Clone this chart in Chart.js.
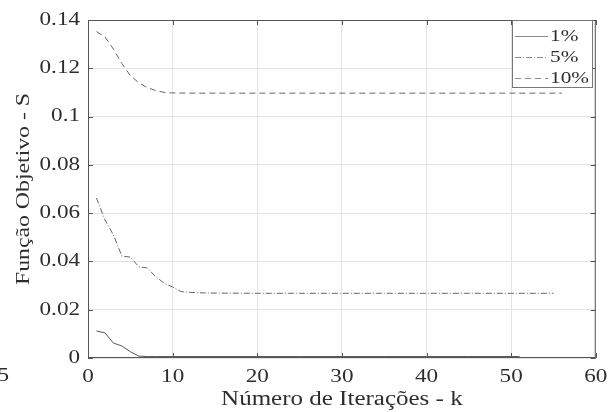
<!DOCTYPE html>
<html>
<head>
<meta charset="utf-8">
<script src="https://cdn.jsdelivr.net/npm/chart.js@4/dist/chart.umd.min.js"></script>
<style>
html,body{margin:0;padding:0;background:#fff;}
#wrap{width:613px;height:412px;}
</style>
</head>
<body>
<div id="wrap"><canvas id="c" width="613" height="412"></canvas></div>
<script>
// Iterations (k) for each series
const k1 = [1,2,3,4,5,6,7,8,10,15,20,25,30,35,40,45,51];
const s1 = [0.0112,0.0104,0.0062,0.0050,0.0026,0.0008,0.0006,0.0006,0.0006,0.0006,0.0006,0.0006,0.0006,0.0006,0.0006,0.0006,0.0006];

const k5 = [1,2,3,4,5,6,7,8,9,10,11,12,14,20,25,30,35,40,45,50,55];
const s5 = [0.0663,0.0572,0.0510,0.0422,0.0418,0.0378,0.0373,0.0337,0.0310,0.0294,0.0275,0.0272,0.0269,0.0268,0.0268,0.0268,0.0268,0.0268,0.0268,0.0268,0.0268];

const k10 = [1,2,3,4,5,6,7,8,9,10,12,15,20,25,30,35,40,45,50,56];
const s10 = [0.1352,0.1330,0.1280,0.1220,0.1170,0.1140,0.1120,0.1108,0.1100,0.1098,0.1097,0.1097,0.1097,0.1097,0.1097,0.1097,0.1097,0.1097,0.1097,0.1097];

const seriesLabels = ['1%','5%','10%'];
const xTicks = [0,10,20,30,40,50,60];
const yTicks = [0,0.02,0.04,0.06,0.08,0.1,0.12,0.14];

const FONT = 'Liberation Serif, Times New Roman, serif';
const TXT = '#2e2e2e';
const SX = 1.25; // horizontal stretch of glyphs, as in the reference

function pts(xs, ys){ return xs.map((x,i)=>({x:x,y:ys[i]})); }

const dashes = [[], [6,2,1,2], [6,4]];

const stretchText = {
  id:'stretchText',
  beforeDraw(chart){
    const ctx = chart.ctx;
    if (ctx._origFill) return;
    const orig = ctx.fillText;
    ctx._origFill = orig;
    ctx.fillText = function(t, x, y, mw){
      this.save();
      this.translate(x, y);
      this.scale(SX, 1);
      if (mw === undefined) orig.call(this, t, 0, 0);
      else orig.call(this, t, 0, 0, mw / SX);
      this.restore();
    };
  }
};

const extras = {
  id:'extras',
  afterDraw(chart){
    const ctx = chart.ctx, a = chart.chartArea;
    const xs = chart.scales.x, ys = chart.scales.y;
    ctx.save();
    // box
    ctx.strokeStyle = '#555'; ctx.lineWidth = 1; ctx.setLineDash([]);
    ctx.strokeRect(a.left+0.5, a.top+0.5, a.right-a.left-1, a.bottom-a.top-1);
    // inward ticks
    ctx.beginPath();
    xTicks.forEach(v=>{
      const px = Math.round(xs.getPixelForValue(v))+0.5;
      ctx.moveTo(px, a.bottom); ctx.lineTo(px, a.bottom-5);
      ctx.moveTo(px, a.top); ctx.lineTo(px, a.top+5);
    });
    yTicks.forEach(v=>{
      const py = Math.round(ys.getPixelForValue(v))+0.5;
      ctx.moveTo(a.left, py); ctx.lineTo(a.left+5, py);
      ctx.moveTo(a.right, py); ctx.lineTo(a.right-5, py);
    });
    ctx.stroke();
    // legend
    const lx = 512, ly = 20, lw = 80, lh = 67;
    ctx.fillStyle = '#fff';
    ctx.fillRect(lx, ly, lw, lh);
    ctx.strokeStyle = '#777';
    ctx.strokeRect(lx+0.5, ly+0.5, lw, lh);
    ctx.font = '17px ' + FONT;
    ctx.textBaseline = 'middle';
    ctx.textAlign = 'left';
    chart.data.datasets.forEach((d,i)=>{
      const y = ly + 16 + i*21;
      ctx.strokeStyle = '#8a8a8a';
      ctx.lineWidth = 1;
      ctx.setLineDash(dashes[i]);
      ctx.beginPath(); ctx.moveTo(lx+3, y+0.5); ctx.lineTo(lx+36, y+0.5); ctx.stroke();
      ctx.setLineDash([]);
      ctx.fillStyle = TXT;
      ctx.fillText(d.label, lx+38, y+1);
    });
    // stray clipped label at left
    ctx.font = '18.5px ' + FONT;
    ctx.textAlign = 'right';
    ctx.fillText('5', 9, 376);
    ctx.restore();
  }
};

new Chart(document.getElementById('c'), {
  type:'line',
  data:{
    datasets:[
      {label:seriesLabels[0], data:pts(k1,s1), borderColor:'#555', borderWidth:1, borderDash:dashes[0], pointRadius:0, fill:false, tension:0},
      {label:seriesLabels[1], data:pts(k5,s5), borderColor:'#666', borderWidth:1, borderDash:dashes[1], pointRadius:0, fill:false, tension:0},
      {label:seriesLabels[2], data:pts(k10,s10), borderColor:'#666', borderWidth:1, borderDash:dashes[2], pointRadius:0, fill:false, tension:0}
    ]
  },
  options:{
    responsive:false,
    animation:false,
    layout:{padding:{top:20,right:17,left:0,bottom:0}},
    plugins:{legend:{display:false}, tooltip:{enabled:false}},
    scales:{
      x:{
        type:'linear', min:0, max:60,
        afterBuildTicks(s){ s.ticks = xTicks.map(v=>({value:v})); },
        afterFit(s){ s.height = 54; },
        grid:{color:'#e4e4e4', drawTicks:false},
        border:{display:false},
        ticks:{color:TXT, font:{family:FONT,size:18.5}, padding:8, maxRotation:0},
        title:{display:true, text:'Número de Iterações - k', color:TXT, font:{family:FONT,size:20}, padding:{top:4,bottom:0}}
      },
      y:{
        type:'linear', min:0, max:0.14,
        afterBuildTicks(s){ s.ticks = yTicks.map(v=>({value:v})); },
        afterFit(s){ s.width = 88; },
        grid:{color:'#e4e4e4', drawTicks:false},
        border:{display:false},
        ticks:{color:TXT, font:{family:FONT,size:18.5}, padding:8, callback:v=>String(+v.toFixed(2))},
        title:{display:true, text:'Função Objetivo - S', color:TXT, font:{family:FONT,size:19}, padding:{top:13,bottom:0}}
      }
    }
  },
  plugins:[stretchText, extras]
});
</script>
</body>
</html>
